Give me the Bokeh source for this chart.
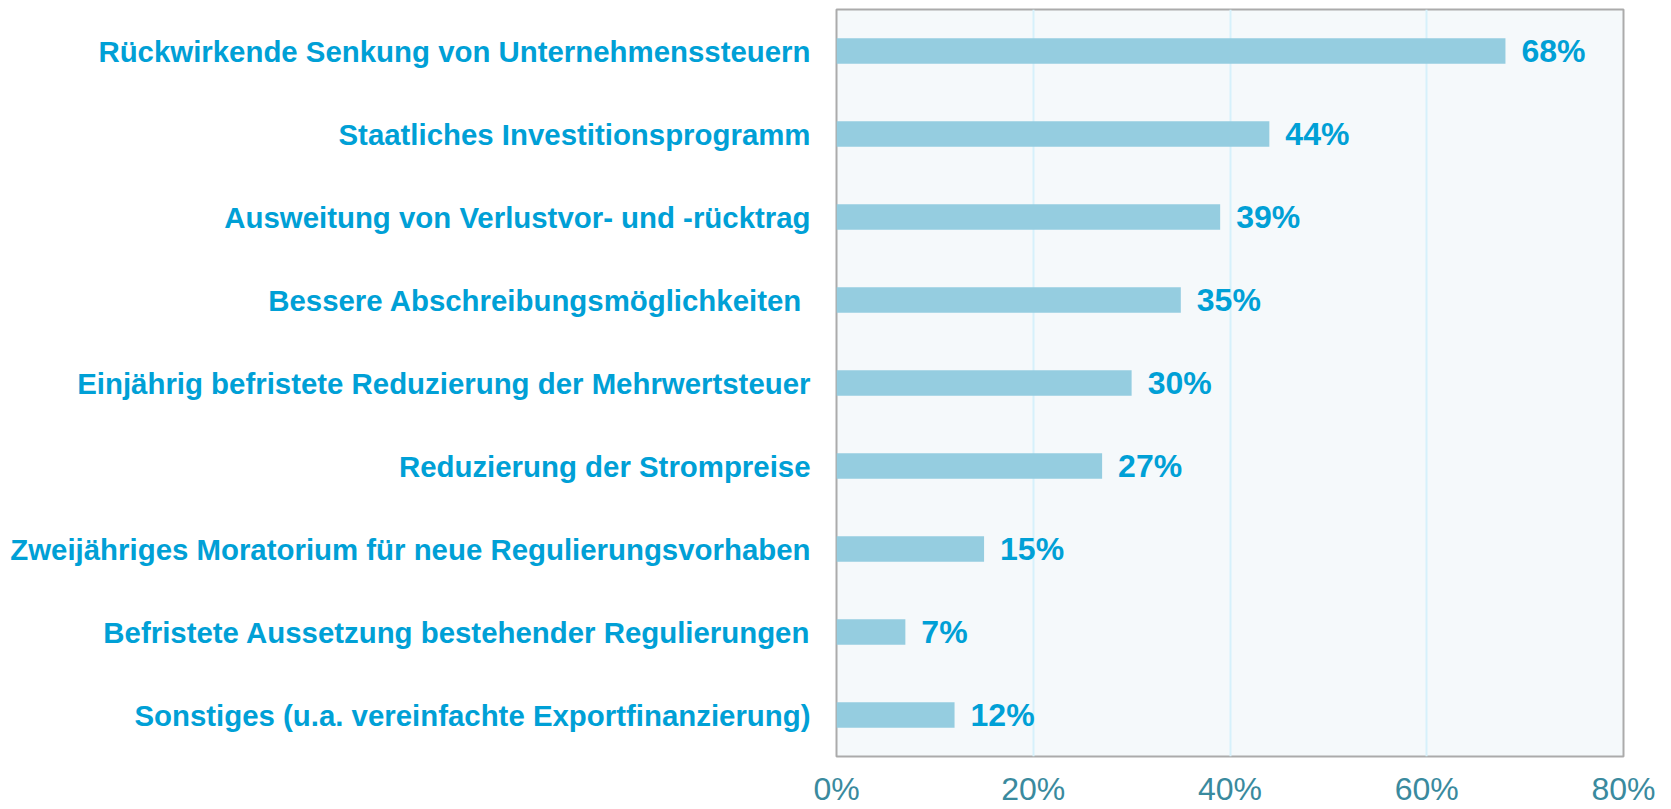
from bokeh.plotting import figure
from bokeh.models import ColumnDataSource, FactorRange, Range1d, NumeralTickFormatter, FixedTicker
from bokeh.core.properties import value
from bokeh.embed import file_html
from bokeh.resources import INLINE

categories = [
    "Rückwirkende Senkung von Unternehmenssteuern",
    "Staatliches Investitionsprogramm",
    "Ausweitung von Verlustvor- und -rücktrag",
    "Bessere Abschreibungsmöglichkeiten ",
    "Einjährig befristete Reduzierung der Mehrwertsteuer",
    "Reduzierung der Strompreise",
    "Zweijähriges Moratorium für neue Regulierungsvorhaben",
    "Befristete Aussetzung bestehender Regulierungen",
    "Sonstiges (u.a. vereinfachte Exportfinanzierung)",
]
values = [0.68, 0.44, 0.39, 0.35, 0.30, 0.27, 0.15, 0.07, 0.12]
labels = ["68%", "44%", "39%", "35%", "30%", "27%", "15%", "7%", "12%"]
ticks = [0, 0.2, 0.4, 0.6, 0.8]

src = ColumnDataSource(dict(cat=categories, val=values, lab=labels))

p = figure(
    width=1655, height=809,
    y_range=FactorRange(factors=list(reversed(categories))),
    x_range=Range1d(0, 0.8),
    output_backend="svg", toolbar_location=None,
    min_border_left=836, min_border_top=9, min_border_right=32, min_border_bottom=10,
)
p.background_fill_color = "#f5f9fb"
p.border_fill_color = "white"
p.outline_line_color = "#ababab"
p.outline_line_width = 2

p.hbar(y="cat", right="val", left=0, height=0.31, source=src,
       fill_color="#95cde0", line_color=None)

p.text(x="val", y="cat", text="lab", source=src, x_offset=16,
       text_baseline="middle", text_align="left",
       text_font=value("Liberation Sans"), text_font_style="bold",
       text_font_size="32px", text_color="#00a0d6")

p.xgrid.ticker = FixedTicker(ticks=ticks)
p.xgrid.grid_line_color = "#d6f1fb"
p.xgrid.grid_line_width = 2
p.ygrid.grid_line_color = None

p.xaxis.ticker = FixedTicker(ticks=ticks)
p.xaxis.formatter = NumeralTickFormatter(format="0%")
p.xaxis.axis_line_color = None
p.xaxis.major_tick_line_color = None
p.xaxis.minor_tick_line_color = None
p.xaxis.major_tick_out = 0
p.xaxis.minor_tick_out = 0
p.xaxis.major_label_text_font = "Liberation Sans"
p.xaxis.major_label_text_font_size = "32px"
p.xaxis.major_label_text_color = "#3a8a9e"
p.xaxis.major_label_standoff = 14

p.yaxis.axis_line_color = None
p.yaxis.major_tick_line_color = None
p.yaxis.minor_tick_line_color = None
p.yaxis.major_tick_out = 0
p.yaxis.minor_tick_out = 0
p.yaxis.major_label_text_font = "Liberation Sans"
p.yaxis.major_label_text_font_style = "bold"
p.yaxis.major_label_text_font_size = "29.4px"
p.yaxis.major_label_text_color = "#00a0d6"
p.yaxis.major_label_standoff = 26

open("out.html", "w").write(file_html(p, INLINE))
